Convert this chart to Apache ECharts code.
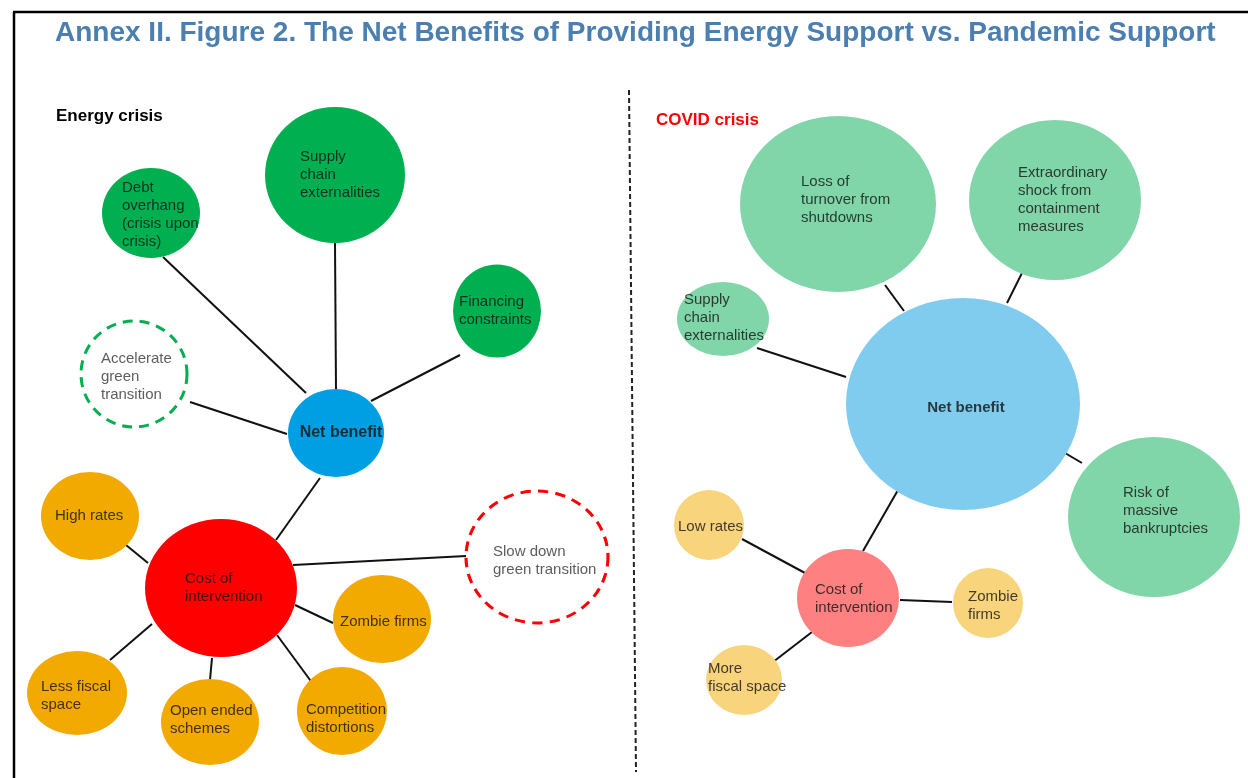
<!DOCTYPE html>
<html>
<head>
<meta charset="utf-8">
<script src="https://cdn.jsdelivr.net/npm/echarts@6/dist/echarts.min.js"></script>
<style>
html,body{margin:0;padding:0;background:#fff;}
#chart{width:1248px;height:778px;}
</style>
</head>
<body>
<div id="chart"></div>
<script>
// ---------- Data ----------
const titleText = 'Annex II. Figure 2. The Net Benefits of Providing Energy Support vs. Pandemic Support';
const panelTitles = ['Energy crisis', 'COVID crisis'];

// Nodes (diagram layout in page units)
const nodeNames = ['L_net','L_debt','L_supply','L_fin','L_acc','L_cost','L_high','L_less','L_open','L_comp','L_zomb','L_slow',
                   'R_loss','R_extra','R_supply','R_net','R_risk','R_low','R_cost','R_zomb','R_more'];
const nodeX = [336,151,335,497,134,221,90,77,210,342,382,537, 838,1055,723,963,1154,709,848,988,744];
const nodeY = [433,213,175,311,374,588,516,693,722,711,619,557, 204,200,319,404,517,525,598,603,680];
const nodeW = [96,98,140,88,106,152,98,100,98,90,98,142, 196,172,92,234,172,70,102,70,76];
const nodeH = [88,90,136,93,106,138,88,84,86,88,88,132, 176,160,74,212,160,70,98,70,70];
const nodeKind = ['netL','green','green','green','dashGreen','red','orange','orange','orange','orange','orange','dashRed',
                  'lgreen','lgreen','lgreen','netR','lgreen','lorange','salmon','lorange','lorange'];

// Node labels
const labelText = [
  'Net benefit',
  'Debt\noverhang\n(crisis upon\ncrisis)',
  'Supply\nchain\nexternalities',
  'Financing\nconstraints',
  'Accelerate\ngreen\ntransition',
  'Cost of\nintervention',
  'High rates',
  'Less fiscal\nspace',
  'Open ended\nschemes',
  'Competition\ndistortions',
  'Zombie firms',
  'Slow down\ngreen transition',
  'Loss of\nturnover from\nshutdowns',
  'Extraordinary\nshock from\ncontainment\nmeasures',
  'Supply\nchain\nexternalities',
  'Net benefit',
  'Risk of\nmassive\nbankruptcies',
  'Low rates',
  'Cost of\nintervention',
  'Zombie\nfirms',
  'More\nfiscal space'
];
const labelX = [341,122,300,459,101,185,55,41,170,306,340,493, 801,1018,684,966,1123,678,815,968,708];
const labelY = [433,215,175,311,377,588,516,696,720,719,622,561, 200,200,318,408,511,527,599,606,678];

// Edges: connected nodes and visible segment endpoints
const edgeFrom = ['L_net','L_net','L_net','L_net','L_net','L_cost','L_cost','L_cost','L_cost','L_cost','L_cost',
                  'R_net','R_net','R_net','R_net','R_net','R_cost','R_cost','R_cost'];
const edgeTo   = ['L_debt','L_supply','L_fin','L_acc','L_cost','L_high','L_less','L_open','L_comp','L_zomb','L_slow',
                  'R_loss','R_extra','R_supply','R_risk','R_cost','R_low','R_zomb','R_more'];
const edgeX1 = [306,336,371,287,320,148,152,212,277,295,293, 904,1007,846,1065,898,805,900,812];
const edgeY1 = [393,390,401,434,478,563,624,658,635,605,565, 311,303,377,453,490,573,600,632];
const edgeX2 = [163,335,460,190,276,126,110,210,313,333,466, 885,1022,757,1082,863,742,952,773];
const edgeY2 = [257,243,355,402,540,545,660,680,684,623,556, 285,273,348,463,551,539,602,662];

// ---------- Styles ----------
const kindStyle = {
  netL:     {color:'#009fe3'},
  green:    {color:'#00b050'},
  dashGreen:{color:'#ffffff', borderColor:'#00b050', borderWidth:3, borderType:[10,7]},
  red:      {color:'#ff0000'},
  orange:   {color:'#f2a900'},
  dashRed:  {color:'#ffffff', borderColor:'#ff0000', borderWidth:3, borderType:[10,7]},
  lgreen:   {color:'#80d6a8'},
  netR:     {color:'#80ccee'},
  lorange:  {color:'#f8d47c'},
  salmon:   {color:'#ff8080'}
};
const FONT = '"Liberation Sans", Arial, sans-serif';

const nodeData = nodeNames.map((n,i)=>({
  name:n, value:[nodeX[i], nodeY[i]], symbolSize:[nodeW[i], nodeH[i]],
  itemStyle: Object.assign({opacity:1}, kindStyle[nodeKind[i]])
}));

const labelData = labelText.map((t,i)=>{
  const k = nodeKind[i];
  const isNet = (k==='netL' || k==='netR');
  const isDash = (k==='dashGreen' || k==='dashRed');
  return {
    value:[labelX[i], labelY[i]],
    label:{
      formatter: t,
      align: isNet ? 'center' : 'left',
      fontWeight: isNet ? 'bold' : 'normal',
      fontSize: k==='netL' ? 16 : 15,
      color: isDash ? '#333333' : '#111111'
    }
  };
});

const edgeData = edgeFrom.map((f,i)=>({
  name: f + '-' + edgeTo[i],
  coords:[[edgeX1[i], edgeY1[i]], [edgeX2[i], edgeY2[i]]]
}));

const chart = echarts.init(document.getElementById('chart'), null, {renderer:'canvas'});
chart.setOption({
  animation:false,
  backgroundColor:'#ffffff',
  title:[
    {text:titleText, left:55, top:19, padding:0,
     textStyle:{fontFamily:FONT, fontSize:28, fontWeight:'bold', color:'#4a7fb0'}},
    {text:panelTitles[0], left:56, top:108, padding:0,
     textStyle:{fontFamily:FONT, fontSize:17, fontWeight:'bold', color:'#000000'}},
    {text:panelTitles[1], left:656, top:112, padding:0,
     textStyle:{fontFamily:FONT, fontSize:17, fontWeight:'bold', color:'#ff0000'}}
  ],
  grid:{left:0, right:0, top:0, bottom:0},
  xAxis:{type:'value', min:0, max:1248, show:false},
  yAxis:{type:'value', min:0, max:778, inverse:true, show:false},
  graphic:[
    {type:'line', shape:{x1:13, y1:12, x2:1248, y2:12}, style:{stroke:'#000', lineWidth:2.5}, z:100},
    {type:'line', shape:{x1:14, y1:12, x2:14, y2:778}, style:{stroke:'#000', lineWidth:2.5}, z:100},
    {type:'line', shape:{x1:629, y1:90, x2:636, y2:772}, style:{stroke:'#222', lineWidth:2, lineDash:[5,3]}, z:100}
  ],
  series:[
    {type:'lines', coordinateSystem:'cartesian2d', z:1, silent:true,
     lineStyle:{color:'#111111', width:2, opacity:1}, data:edgeData},
    {type:'scatter', z:2, silent:true, symbol:'circle', data:nodeData},
    {type:'scatter', z:3, silent:true, symbolSize:1, itemStyle:{color:'transparent'},
     label:{show:true, position:'inside', verticalAlign:'middle', lineHeight:18, fontFamily:FONT},
     data:labelData}
  ]
});
</script>
</body>
</html>
